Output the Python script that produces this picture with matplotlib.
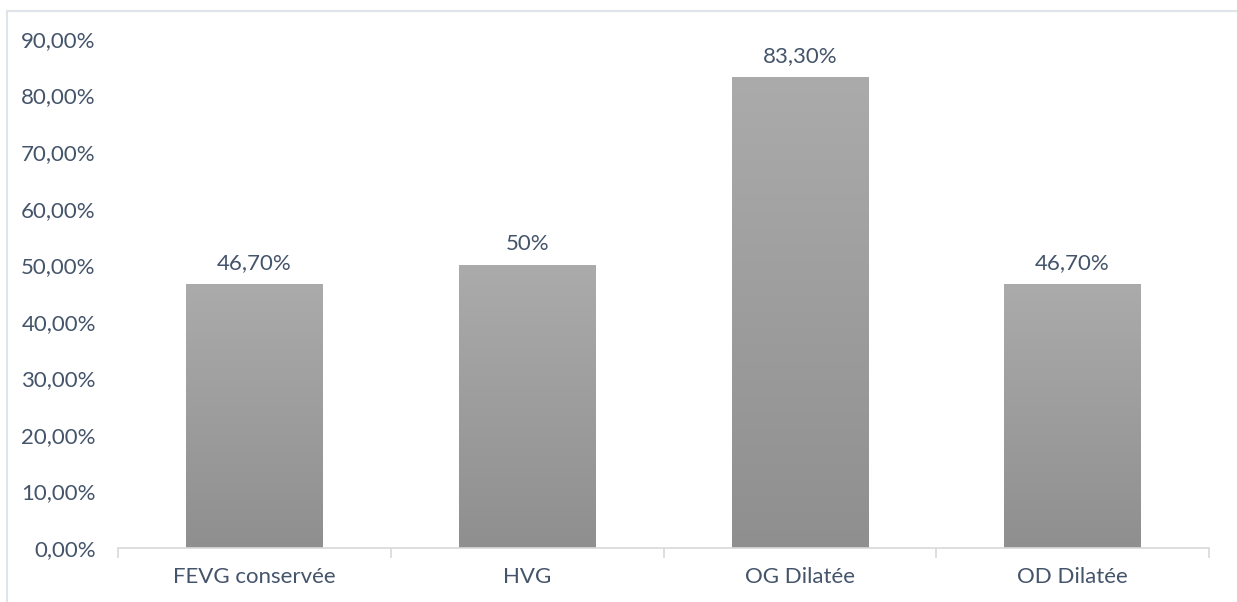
import matplotlib
matplotlib.use("Agg")
import matplotlib.pyplot as plt
import numpy as np
from matplotlib.patches import Rectangle
from matplotlib.colors import LinearSegmentedColormap

categories = ["FEVG conservée", "HVG", "OG Dilatée", "OD Dilatée"]
values = [46.7, 50.0, 83.3, 46.7]
value_labels = ["46,70%", "50%", "83,30%", "46,70%"]
yticks = [0, 10, 20, 30, 40, 50, 60, 70, 80, 90]

text_color = "#44546a"
line_color = "#d9d9d9"

plt.rcParams["font.family"] = ["Lato", "DejaVu Sans"]

W, H = 1237, 602
fig = plt.figure(figsize=(W / 100, H / 100), dpi=100)
fig.patch.set_facecolor("white")

# light outer frame of the chart area
fig.add_artist(Rectangle((7 / W, -0.05), 1.2, (H - 11) / H + 0.05,
                         transform=fig.transFigure, fill=False,
                         edgecolor="#dfe3ea", linewidth=1.5))

ax = fig.add_axes([118 / W, 54 / H, (1209 - 118) / W, (548 - 39) / H])

x = np.arange(len(categories))
bars = ax.bar(x, values, width=0.5, color="none", edgecolor="none", zorder=2)

# vertical grey gradient in each bar
grad = np.linspace(0, 1, 256).reshape(-1, 1)
cmap = LinearSegmentedColormap.from_list("g", ["#8f8f8f", "#ababab"])
for b in bars:
    x0, w, h = b.get_x(), b.get_width(), b.get_height()
    im = ax.imshow(grad, cmap=cmap, origin="lower", aspect="auto",
                   extent=[x0, x0 + w, 0, h], zorder=2)
    im.set_clip_path(b)

for xi, v, lab in zip(x, values, value_labels):
    ax.annotate(lab, (xi, v), xytext=(0, 8), textcoords="offset points",
                ha="center", va="bottom", color=text_color, fontsize=16)

ax.set_xlim(-0.5, len(categories) - 0.5)
ax.set_ylim(0, 90)
ax.set_yticks(yticks)
ax.set_yticklabels(["%d,00%%" % t for t in yticks])
ax.set_xticks(x)
ax.set_xticklabels(categories)
ax.set_xticks(np.arange(-0.5, len(categories)), minor=True)

for s in ["top", "right", "left"]:
    ax.spines[s].set_visible(False)
ax.spines["bottom"].set_color(line_color)
ax.spines["bottom"].set_linewidth(1.2)

ax.tick_params(axis="y", length=0, pad=16, labelsize=16, labelcolor=text_color)
ax.tick_params(axis="x", which="major", length=0, pad=14, labelsize=16,
               labelcolor=text_color)
ax.tick_params(axis="x", which="minor", length=7, width=1.2, color=line_color)

fig.savefig("out.png", dpi=100, facecolor="white")
